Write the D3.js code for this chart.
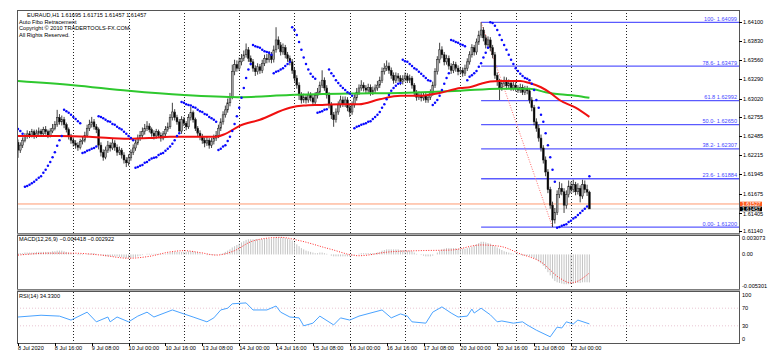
<!DOCTYPE html>
<html>
<head>
<meta charset="utf-8">
<style>
  body { margin: 0; background: #fff; }
  svg { display: block; font-family: "Liberation Sans", Arial, sans-serif; }
</style>
</head>
<body>
<svg width="774" height="362"></svg>
<script src="https://d3js.org/d3.v7.min.js"></script>
<script>
// EURAUD H1, 8 Jul 2020 00:00 .. 22 Jul 2020 08:00 (bar 0 .. 248)
var firstOpen = 1.6240;
var close = [
  1.6229,1.6236,1.6243,1.6248,1.6252,1.6250,1.6255,1.6249,1.6253,1.6256,
  1.6252,1.6258,1.6255,1.6250,1.6256,1.6260,1.6265,1.6275,1.6269,1.6272,
  1.6265,1.6258,1.6248,1.6243,1.6239,1.6236,1.6233,1.6241,1.6243,1.6250,
  1.6260,1.6265,1.6269,1.6262,1.6258,1.6236,1.6226,1.6219,1.6229,1.6236,
  1.6232,1.6239,1.6233,1.6226,1.6229,1.6222,1.6215,1.6211,1.6218,1.6226,
  1.6232,1.6239,1.6246,1.6250,1.6255,1.6260,1.6263,1.6258,1.6253,1.6249,
  1.6255,1.6250,1.6246,1.6252,1.6258,1.6262,1.6275,1.6283,1.6275,1.6269,
  1.6256,1.6272,1.6267,1.6262,1.6275,1.6282,1.6272,1.6260,1.6253,1.6248,
  1.6243,1.6239,1.6243,1.6236,1.6241,1.6246,1.6250,1.6260,1.6269,1.6279,
  1.6286,1.6296,1.6304,1.6340,1.6350,1.6345,1.6354,1.6359,1.6364,1.6371,
  1.6359,1.6354,1.6345,1.6340,1.6347,1.6342,1.6352,1.6359,1.6357,1.6364,
  1.6357,1.6371,1.6385,1.6378,1.6368,1.6374,1.6364,1.6359,1.6354,1.6342,
  1.6331,1.6321,1.6307,1.6300,1.6304,1.6300,1.6307,1.6303,1.6297,1.6306,
  1.6311,1.6321,1.6328,1.6317,1.6307,1.6293,1.6279,1.6272,1.6283,1.6293,
  1.6300,1.6294,1.6300,1.6289,1.6283,1.6293,1.6303,1.6311,1.6317,1.6321,
  1.6317,1.6314,1.6318,1.6311,1.6314,1.6317,1.6321,1.6328,1.6340,1.6345,
  1.6348,1.6342,1.6335,1.6328,1.6334,1.6331,1.6326,1.6330,1.6334,1.6328,
  1.6331,1.6321,1.6310,1.6304,1.6307,1.6303,1.6306,1.6300,1.6304,1.6310,
  1.6321,1.6340,1.6357,1.6371,1.6364,1.6354,1.6359,1.6348,1.6342,1.6350,
  1.6345,1.6340,1.6342,1.6338,1.6345,1.6354,1.6364,1.6374,1.6368,1.6382,
  1.6392,1.6399,1.6388,1.6378,1.6385,1.6374,1.6364,1.6335,1.6326,1.6317,
  1.6323,1.6328,1.6320,1.6324,1.6317,1.6321,1.6317,1.6314,1.6318,1.6311,
  1.6316,1.6313,1.6300,1.6289,1.6269,1.6260,1.6246,1.6232,1.6215,1.6198,
  1.6173,1.6151,1.6130,1.6141,1.6166,1.6175,1.6170,1.6151,1.6166,1.6178,
  1.6173,1.6180,1.6170,1.6175,1.6164,1.6180,1.6173,1.61695,1.61457
];
var high = [
  1.6244,1.6240,1.6247,1.6253,1.6257,1.6256,1.6259,1.6258,1.6258,1.6261,
  1.6259,1.6262,1.6263,1.6258,1.6260,1.6266,1.6270,1.6286,1.6280,1.6278,
  1.6276,1.6268,1.6261,1.6252,1.6247,1.6243,1.6240,1.6245,1.6249,1.6255,
  1.6265,1.6272,1.6276,1.6273,1.6266,1.6261,1.6240,1.6230,1.6234,1.6242,
  1.6240,1.6245,1.6243,1.6237,1.6234,1.6232,1.6226,1.6219,1.6223,1.6230,
  1.6237,1.6244,1.6251,1.6256,1.6261,1.6266,1.6270,1.6267,1.6261,1.6257,
  1.6259,1.6258,1.6254,1.6256,1.6263,1.6268,1.6280,1.6296,1.6287,1.6279,
  1.6273,1.6277,1.6276,1.6270,1.6280,1.6290,1.6285,1.6275,1.6263,1.6257,
  1.6252,1.6247,1.6248,1.6246,1.6246,1.6251,1.6256,1.6265,1.6274,1.6284,
  1.6292,1.6302,1.6310,1.6350,1.6357,1.6356,1.6360,1.6365,1.6370,1.6380,
  1.6375,1.6363,1.6358,1.6349,1.6352,1.6351,1.6357,1.6364,1.6365,1.6369,
  1.6368,1.6377,1.6403,1.6390,1.6382,1.6380,1.6378,1.6368,1.6363,1.6358,
  1.6346,1.6335,1.6325,1.6311,1.6309,1.6308,1.6312,1.6311,1.6307,1.6311,
  1.6317,1.6326,1.6342,1.6332,1.6321,1.6311,1.6297,1.6283,1.6288,1.6298,
  1.6306,1.6305,1.6305,1.6304,1.6293,1.6298,1.6308,1.6317,1.6322,1.6328,
  1.6325,1.6321,1.6323,1.6322,1.6319,1.6322,1.6327,1.6333,1.6346,1.6352,
  1.6356,1.6353,1.6346,1.6339,1.6339,1.6338,1.6335,1.6335,1.6339,1.6338,
  1.6336,1.6334,1.6324,1.6314,1.6312,1.6311,1.6311,1.6310,1.6309,1.6315,
  1.6326,1.6345,1.6362,1.6381,1.6376,1.6368,1.6364,1.6363,1.6352,1.6355,
  1.6354,1.6349,1.6347,1.6346,1.6350,1.6359,1.6369,1.6379,1.6378,1.6387,
  1.6398,1.64099,1.6403,1.6392,1.6390,1.6389,1.6378,1.6368,1.6339,1.6330,
  1.6328,1.6333,1.6332,1.6329,1.6328,1.6326,1.6325,1.6321,1.6323,1.6322,
  1.6320,1.6320,1.6317,1.6304,1.6293,1.6274,1.6265,1.6251,1.6236,1.6220,
  1.6202,1.6177,1.6156,1.6147,1.6172,1.6184,1.6182,1.6175,1.6172,1.6186,
  1.6184,1.6187,1.6184,1.6182,1.6179,1.6187,1.6186,1.6180,1.61715
];
var low = [
  1.6218,1.6225,1.6232,1.6240,1.6245,1.6246,1.6247,1.6245,1.6246,1.6250,
  1.6248,1.6249,1.6251,1.6246,1.6247,1.6253,1.6257,1.6262,1.6265,1.6264,
  1.6260,1.6254,1.6244,1.6238,1.6234,1.6231,1.6228,1.6230,1.6237,1.6240,
  1.6247,1.6256,1.6261,1.6258,1.6253,1.6230,1.6220,1.6214,1.6216,1.6225,
  1.6227,1.6229,1.6228,1.6221,1.6222,1.6217,1.6210,1.6205,1.6207,1.6214,
  1.6222,1.6228,1.6236,1.6242,1.6246,1.6251,1.6256,1.6254,1.6248,1.6244,
  1.6245,1.6246,1.6241,1.6243,1.6249,1.6255,1.6259,1.6271,1.6271,1.6265,
  1.6254,1.6252,1.6263,1.6257,1.6259,1.6271,1.6268,1.6256,1.6248,1.6243,
  1.6238,1.6233,1.6235,1.6231,1.6232,1.6237,1.6242,1.6246,1.6256,1.6265,
  1.6275,1.6282,1.6291,1.6301,1.6335,1.6340,1.6341,1.6349,1.6355,1.6360,
  1.6354,1.6349,1.6340,1.6334,1.6336,1.6337,1.6338,1.6348,1.6352,1.6353,
  1.6352,1.6353,1.6367,1.6372,1.6363,1.6364,1.6359,1.6354,1.6349,1.6337,
  1.6326,1.6316,1.6300,1.6295,1.6296,1.6295,1.6296,1.6298,1.6292,1.6293,
  1.6302,1.6307,1.6317,1.6313,1.6302,1.6288,1.6273,1.6262,1.6268,1.6279,
  1.6289,1.6290,1.6290,1.6284,1.6276,1.6279,1.6289,1.6299,1.6307,1.6313,
  1.6312,1.6309,1.6310,1.6306,1.6307,1.6310,1.6313,1.6317,1.6324,1.6336,
  1.6341,1.6337,1.6330,1.6323,1.6324,1.6326,1.6321,1.6322,1.6326,1.6324,
  1.6324,1.6316,1.6305,1.6299,1.6300,1.6298,1.6299,1.6296,1.6296,1.6300,
  1.6306,1.6317,1.6336,1.6352,1.6359,1.6349,1.6350,1.6343,1.6337,1.6338,
  1.6340,1.6335,1.6336,1.6333,1.6334,1.6341,1.6350,1.6360,1.6363,1.6364,
  1.6378,1.6388,1.6383,1.6373,1.6374,1.6369,1.6359,1.6330,1.6320,1.6300,
  1.6313,1.6319,1.6315,1.6316,1.6313,1.6313,1.6312,1.6310,1.6310,1.6307,
  1.6307,1.6308,1.6295,1.6284,1.6264,1.6255,1.6241,1.6227,1.6210,1.6192,
  1.6168,1.6146,1.6120,1.6125,1.6137,1.6161,1.6165,1.6140,1.6146,1.6162,
  1.6168,1.6169,1.6165,1.6166,1.6155,1.6160,1.6168,1.6164,1.61457
];
// Parabolic SAR, one dot per bar
var sar = [
  1.6259,1.6256,1.6252,1.6177,1.6178,1.6180,1.6182,1.6184,1.6187,1.6190,
  1.6192,1.6197,1.6201,1.6207,1.6212,1.6219,1.6226,1.6235,1.6243,1.6249,
  1.6286,1.6284,1.6282,1.6279,1.6276,1.6273,1.6270,1.6267,1.6225,1.6226,
  1.6228,1.6229,1.6231,1.6232,1.6234,1.6277,1.6276,1.6274,1.6272,1.6270,
  1.6269,1.6266,1.6265,1.6262,1.6260,1.6258,1.6255,1.6252,1.6249,1.6246,
  1.6243,1.6204,1.6205,1.6207,1.6208,1.6211,1.6212,1.6215,1.6217,1.6218,
  1.6219,1.6222,1.6224,1.6225,1.6228,1.6231,1.6234,1.6238,1.6243,1.6249,
  1.6253,1.6297,1.6296,1.6294,1.6293,1.6292,1.6290,1.6289,1.6286,1.6284,
  1.6283,1.6280,1.6279,1.6276,1.6274,1.6272,1.6269,1.6229,1.6231,1.6234,
  1.6236,1.6242,1.6248,1.6256,1.6266,1.6277,1.6289,1.6303,1.6317,1.6331,
  1.6343,1.6351,1.6378,1.6376,1.6375,1.6374,1.6371,1.6369,1.6368,1.6367,
  1.6364,1.6338,1.6340,1.6341,1.6343,1.6345,1.6348,1.6351,1.6354,1.6403,
  1.6399,1.6392,1.6382,1.6371,1.6360,1.6351,1.6343,1.6337,1.6333,1.6330,
  1.6282,1.6283,1.6284,1.6286,1.6287,1.6343,1.6338,1.6334,1.6328,1.6324,
  1.6320,1.6317,1.6314,1.6311,1.6309,1.6306,1.6260,1.6262,1.6263,1.6265,
  1.6266,1.6267,1.6269,1.6270,1.6273,1.6276,1.6279,1.6283,1.6289,1.6294,
  1.6301,1.6307,1.6313,1.6317,1.6320,1.6323,1.6324,1.6357,1.6355,1.6354,
  1.6351,1.6348,1.6345,1.6343,1.6340,1.6337,1.6334,1.6331,1.6328,1.6327,
  1.6293,1.6296,1.6300,1.6306,1.6314,1.6323,1.6331,1.6338,1.6385,1.6384,
  1.6382,1.6381,1.6379,1.6378,1.6376,1.6328,1.6333,1.6335,1.6338,1.6341,
  1.6347,1.6352,1.6360,1.6367,1.6374,1.6410,1.6409,1.6405,1.6399,1.6392,
  1.6385,1.6378,1.6371,1.6364,1.6357,1.6351,1.6345,1.6341,1.6337,1.6334,
  1.6331,1.6330,1.6328,1.6323,1.6314,1.6300,1.6289,1.6279,1.6269,1.6253,
  1.6236,1.6219,1.6201,1.6184,1.6119,1.6120,1.6122,1.6123,1.6124,1.6127,
  1.6129,1.6132,1.6134,1.6137,1.6140,1.6143,1.6146,1.6149,1.6192
];
// moving averages, read at sample bars
var maRedBars = [0,18,31,48,57,66,79,86,90,96,105,118,124,131,140,148,157,166,174,183,192,196,201,205,209,218,222,227,231,235,242,248];
var maRedVals = [1.6249,1.6249,1.6248,1.6245,1.6246,1.6248,1.6248,1.6248,1.6252,1.6263,1.6272,1.6289,1.6292,1.6293,1.6294,1.6294,1.6301,1.6306,1.6306,1.6310,1.6317,1.6318,1.6323,1.6326,1.6327,1.6327,1.6324,1.6318,1.6310,1.6300,1.6289,1.6276];
var maGreenBars = [0,24,48,72,96,118,144,166,192,209,222,229,235,242,248];
var maGreenVals = [1.6327,1.6321,1.6313,1.6307,1.6304,1.6307,1.6309,1.6310,1.6313,1.6316,1.6316,1.6311,1.6308,1.6306,1.6303];

// MACD(12,26,9) main histogram, one value per bar
var macdMain = [
  0.0002,0.0002,0.0002,0.0003,0.0003,0.0003,0.0003,0.0003,0.0004,0.0004,0.0004,
  0.0004,0.0004,0.0004,0.0004,0.0005,0.0005,0.0006,0.0006,0.0006,0.0005,
  0.0004,0.0003,0.0002,0.0001,0,-0.0001,-0.0001,-0.0001,0,0.0001,
  0.0001,0.0002,0.0002,0.0001,0,-0.0001,-0.0002,-0.0003,-0.0003,-0.0003,
  -0.0003,-0.0003,-0.0003,-0.0004,-0.0004,-0.0005,-0.0006,-0.0006,-0.0006,-0.0005,
  -0.0004,-0.0003,-0.0002,-0.0001,0,0.0001,0.0001,0.0001,0.0001,0.0001,
  0.0001,0.0001,0.0001,0.0001,0.0002,0.0003,0.0004,0.0004,0.0004,0.0004,
  0.0004,0.0004,0.0004,0.0005,0.0005,0.0005,0.0004,0.0003,0.0002,0.0001,
  0,-0.0001,-0.0001,-0.0001,-0.0001,-0.0001,0,0.0001,0.0002,0.0004,
  0.0006,0.0008,0.0011,0.0013,0.0015,0.0017,0.0019,0.0021,0.0023,0.0024,
  0.0024,0.0024,0.0024,0.0024,0.0024,0.0024,0.0025,0.0025,0.0025,0.0025,
  0.0026,0.0027,0.0027,0.0027,0.0027,0.0026,0.0025,0.0024,0.0022,0.0019,
  0.0016,0.0013,0.0010,0.0008,0.0006,0.0005,0.0004,0.0003,0.0002,0.0002,
  0.0003,0.0003,0.0002,0.0001,0,-0.0002,-0.0003,-0.0003,-0.0003,-0.0003,
  -0.0003,-0.0003,-0.0003,-0.0003,-0.0002,-0.0001,0,0.0001,0.0002,0.0002,
  0.0002,0.0002,0.0002,0.0002,0.0002,0.0003,0.0004,0.0006,0.0007,0.0008,
  0.0008,0.0008,0.0008,0.0008,0.0008,0.0007,0.0007,0.0007,0.0006,0.0006,
  0.0005,0.0003,0.0001,0,-0.0001,-0.0002,-0.0003,-0.0003,-0.0003,-0.0002,
  0,0.0003,0.0006,0.0008,0.0009,0.0010,0.0010,0.0010,0.0010,0.0010,
  0.0009,0.0009,0.0009,0.0009,0.0010,0.0011,0.0012,0.0014,0.0016,0.0018,
  0.0020,0.0020,0.0019,0.0018,0.0017,0.0015,0.0013,0.0011,0.0009,0.0007,
  0.0005,0.0004,0.0003,0.0002,0.0001,0,-0.0001,-0.0001,-0.0002,-0.0002,
  -0.0002,-0.0003,-0.0004,-0.0006,-0.0008,-0.0011,-0.0014,-0.0018,-0.0023,-0.0028,
  -0.0033,-0.0038,-0.0042,-0.0044,-0.0045,-0.0046,-0.0047,-0.0047,-0.0047,-0.0046,
  -0.0046,-0.0045,-0.0045,-0.0045,-0.0044,-0.0044,-0.0044,-0.004418
];
var macdSigBars = [0,14,24,36,48,57,66,72,79,86,94,101,105,114,122,135,148,161,174,188,201,209,218,227,235,240,248];
var macdSigVals = [-0.0001,0.0002,0.0002,-0.0001,-0.0006,-0.0003,0.0004,0.0006,0.0003,-0.0001,0.0006,0.0020,0.0024,0.0027,0.0022,0.0009,-0.0002,0.0004,0.0006,0.0007,0.0015,0.0013,0.0001,-0.0012,-0.0037,-0.0045,-0.002922];

// RSI(14), read at sample bars
var rsiBars = [0,10,18,23,30,34,39,40,43,48,52,56,59,67,72,76,82,85,88,91,93,99,102,108,112,114,118,122,124,128,131,137,140,144,148,158,162,166,169,171,177,180,184,188,191,195,197,198,201,205,208,210,215,219,221,225,231,234,236,238,241,243,248];
var rsiVals = [50,54,52,43,61,39,50,39,50,39,52,61,50,66,57,50,39,48,66,70,80,82,66,66,75,61,50,48,30,36,52,32,48,43,52,66,48,57,52,39,36,61,73,59,50,52,68,59,70,55,39,41,36,39,32,20,5,27,25,39,34,43,34.33];

var fiboNames = ["100", "78.6", "61.8", "50.0", "38.2", "23.6", "0.00"];
var fiboPrices = [1.64099, 1.63479, 1.62992, 1.62650, 1.62307, 1.61884, 1.61200];
var fiboHighBar = 201, fiboLowBar = 232;

var priceTicks = [1.64100, 1.63830, 1.63560, 1.63290, 1.63020, 1.62755, 1.62485, 1.62215, 1.61945, 1.61675, 1.61405, 1.61140];
var timeLabels = ["8 Jul 2020", "8 Jul 16:00", "9 Jul 08:00", "10 Jul 00:00", "10 Jul 16:00", "13 Jul 08:00", "14 Jul 00:00", "14 Jul 16:00",
                  "15 Jul 08:00", "16 Jul 00:00", "16 Jul 16:00", "17 Jul 08:00", "20 Jul 00:00", "20 Jul 16:00", "21 Jul 08:00", "22 Jul 00:00"];
var infoLines = ["Auto Fibo Retracement", "Copyright \u00a9 2010 TRADERTOOLS-FX.COM.", "All Rights Reserved."];
var askPrice = 1.61527, bidPrice = 1.61457;

var svg = d3.select("svg"),
    left = 17, right = 739,
    mainTop = 10, mainBot = 233,
    macdTop = 235, macdBot = 289,
    rsiTop = 291, rsiBot = 343,
    fs = 5.6;

var x = d3.scaleLinear().domain([0, 248]).range([18, 18 + 248 * 2.304]);
var y = d3.scaleLinear().domain([1.6114, 1.6410]).range([231.3, 22.3]);
var yM = d3.scaleLinear().domain([-0.005301, 0.003073]).range([288, 235]);
var yR = d3.scaleLinear().domain([0, 100]).range([339, 295]);

svg.append("rect").attr("width", 774).attr("height", 362).attr("fill", "#fff");

var defs = svg.append("defs");
[["cMain", mainTop, mainBot], ["cMacd", macdTop, macdBot], ["cRsi", rsiTop, rsiBot]].forEach(function(c) {
  defs.append("clipPath").attr("id", c[0]).append("rect")
    .attr("x", left).attr("y", c[1]).attr("width", right - left).attr("height", c[2] - c[1]);
});

// vertical dotted grid
svg.append("g").selectAll("line").data(d3.range(24, 265, 24)).join("line")
    .attr("x1", function(d) { return Math.round(x(d)) + 0.5; })
    .attr("x2", function(d) { return Math.round(x(d)) + 0.5; })
    .attr("y1", mainTop).attr("y2", rsiBot)
    .attr("stroke", "#222").attr("stroke-width", 1).attr("stroke-dasharray", "1,2");

var gMain = svg.append("g").attr("clip-path", "url(#cMain)");

// fibo levels
gMain.selectAll(".fib").data(fiboPrices).join("line")
    .attr("x1", x(fiboHighBar)).attr("x2", right)
    .attr("y1", function(d) { return y(d); }).attr("y2", function(d) { return y(d); })
    .attr("stroke", "#5a5aff").attr("stroke-width", 1.3);
gMain.append("line")
    .attr("x1", x(fiboHighBar)).attr("y1", y(fiboPrices[0]))
    .attr("x2", x(fiboLowBar)).attr("y2", y(fiboPrices[6]))
    .attr("stroke", "#ff6a6a").attr("stroke-width", 1).attr("stroke-dasharray", "1,1.5");

// ask / bid lines
gMain.append("line").attr("x1", left).attr("x2", right)
    .attr("y1", y(askPrice)).attr("y2", y(askPrice))
    .attr("stroke", "#ff9a70").attr("stroke-width", 1);
gMain.append("line").attr("x1", left).attr("x2", right)
    .attr("y1", y(bidPrice)).attr("y2", y(bidPrice))
    .attr("stroke", "#d8d8d8").attr("stroke-width", 1);

// candles
var bars = close.map(function(c, i) {
  return {i: i, o: i ? close[i - 1] : firstOpen, h: high[i], l: low[i], c: c};
});
gMain.selectAll(".wick").data(bars).join("line")
    .attr("x1", function(d) { return x(d.i); }).attr("x2", function(d) { return x(d.i); })
    .attr("y1", function(d) { return y(d.h); }).attr("y2", function(d) { return y(d.l); })
    .attr("stroke", "#111").attr("stroke-width", 0.8);
gMain.selectAll(".body").data(bars).join("rect")
    .attr("x", function(d) { return x(d.i) - 0.9; })
    .attr("width", 1.8)
    .attr("y", function(d) { return y(Math.max(d.o, d.c)); })
    .attr("height", function(d) { return Math.max(0.6, Math.abs(y(d.o) - y(d.c))); })
    .attr("fill", function(d) { return d.c >= d.o ? "#a8a8a8" : "#000"; })
    .attr("stroke", "#222").attr("stroke-width", 0.5);

// moving averages
var maLine = d3.line().x(function(d) { return x(d[0]); }).y(function(d) { return y(d[1]); }).curve(d3.curveMonotoneX);
gMain.append("path").attr("d", maLine(d3.zip(maGreenBars, maGreenVals)))
    .attr("fill", "none").attr("stroke", "#2ec82e").attr("stroke-width", 2);
gMain.append("path").attr("d", maLine(d3.zip(maRedBars, maRedVals)))
    .attr("fill", "none").attr("stroke", "#f01010").attr("stroke-width", 2);

// parabolic SAR
gMain.selectAll(".sar").data(sar).join("circle")
    .attr("cx", function(d, i) { return x(i); }).attr("cy", function(d) { return y(d); })
    .attr("r", 1.25).attr("fill", "#0a0aff");

// fibo labels
gMain.selectAll(".fibt").data(fiboPrices).join("text")
    .attr("x", right - 2).attr("y", function(d) { return y(d) - 1.5; })
    .attr("text-anchor", "end").attr("font-size", fs).attr("fill", "#4646ff")
    .text(function(d, i) { return fiboNames[i] + (i == 2 ? " " : "- ") + d3.format(".5f")(d); });

// info text
svg.append("text").attr("x", 27).attr("y", 17).attr("font-size", fs).attr("fill", "#000")
    .text("EURAUD,H1  " + [bars[248].o, bars[248].h, bars[248].l, bars[248].c].map(d3.format(".5f")).join(" "));
svg.selectAll(".info").data(infoLines).join("text")
    .attr("x", 19).attr("y", function(d, i) { return 23.5 + i * 6.5; })
    .attr("font-size", fs).attr("fill", "#000").text(function(d) { return d; });

// MACD panel
var gMacd = svg.append("g").attr("clip-path", "url(#cMacd)");
gMacd.selectAll(".h").data(macdMain).join("line")
    .attr("x1", function(d, i) { return x(i); }).attr("x2", function(d, i) { return x(i); })
    .attr("y1", yM(0)).attr("y2", function(d) { return yM(d); })
    .attr("stroke", "#bcbcbc").attr("stroke-width", 0.9);
gMacd.append("path")
    .attr("d", d3.line().x(function(d) { return x(d[0]); }).y(function(d) { return yM(d[1]); })
      .curve(d3.curveMonotoneX)(d3.zip(macdSigBars, macdSigVals)))
    .attr("fill", "none").attr("stroke", "#ff2a2a").attr("stroke-width", 1).attr("stroke-dasharray", "1,1.5");
svg.append("text").attr("x", 19).attr("y", 241).attr("font-size", fs)
    .text("MACD(12,26,9) " + d3.format(".6f")(macdMain[248]) + " " + d3.format(".6f")(macdSigVals[macdSigVals.length - 1]));

// RSI panel
var gRsi = svg.append("g").attr("clip-path", "url(#cRsi)");
gRsi.selectAll(".lvl").data([70, 30]).join("line")
    .attr("x1", left).attr("x2", right)
    .attr("y1", function(d) { return yR(d); }).attr("y2", function(d) { return yR(d); })
    .attr("stroke", "#e2b8c8").attr("stroke-width", 0.8).attr("stroke-dasharray", "1,2");
gRsi.append("path")
    .attr("d", d3.line().x(function(d) { return x(d[0]); }).y(function(d) { return yR(d[1]); })(d3.zip(rsiBars, rsiVals)))
    .attr("fill", "none").attr("stroke", "#4aa3ff").attr("stroke-width", 1);
svg.append("text").attr("x", 19).attr("y", 298).attr("font-size", fs)
    .text("RSI(14) " + d3.format(".4f")(rsiVals[rsiVals.length - 1]));

// frames
var fr = svg.append("g").attr("stroke", "#555").attr("fill", "none");
[[mainTop, mainBot], [macdTop, macdBot], [rsiTop, rsiBot]].forEach(function(p) {
  fr.append("rect").attr("x", left + 0.5).attr("y", p[0] + 0.5)
    .attr("width", right - left).attr("height", p[1] - p[0]);
});
svg.append("rect").attr("x", left).attr("y", mainBot + 0.5).attr("width", right - left + 1).attr("height", 1.5).attr("fill", "#aaa");
svg.append("rect").attr("x", left).attr("y", macdBot + 0.5).attr("width", right - left + 1).attr("height", 1.5).attr("fill", "#aaa");

// price axis
var ax = svg.append("g").attr("font-size", fs);
ax.selectAll("line").data(priceTicks).join("line")
    .attr("x1", right).attr("x2", right + 3)
    .attr("y1", function(d) { return Math.round(y(d)) + 0.5; }).attr("y2", function(d) { return Math.round(y(d)) + 0.5; })
    .attr("stroke", "#000");
ax.selectAll("text").data(priceTicks).join("text")
    .attr("x", right + 4).attr("y", function(d) { return y(d) + (d < 1.6142 && d > 1.6140 ? 3.2 : 2); })
    .text(function(d) { return d3.format(".5f")(d); });

// current price boxes
[[askPrice, "#ff5a1e"], [bidPrice, "#000"]].forEach(function(p) {
  svg.append("rect").attr("x", right + 1).attr("y", y(p[0]) - 2.3).attr("width", 22).attr("height", 4.6).attr("fill", p[1]);
  svg.append("text").attr("x", right + 3).attr("y", y(p[0]) + 1.9).attr("font-size", 5.2).attr("fill", "#fff")
      .text(d3.format(".5f")(p[0]));
});

// MACD / RSI axis labels
var sub = [[239.5, "0.003073"], [yM(0) + 2, "0.00"], [yM(-0.005301) + 0, "-0.005301"],
           [yR(100) + 2, "100"], [yR(70) + 2, "70"], [yR(30) + 2, "30"], [yR(0) + 2, "0"]];
svg.append("g").attr("font-size", fs).selectAll("text").data(sub).join("text")
    .attr("x", right + 3).attr("y", function(d) { return d[0]; }).text(function(d) { return d[1]; });

// time axis
var tg = svg.append("g").attr("font-size", fs);
tg.selectAll("line").data(timeLabels).join("line")
    .attr("x1", function(d, i) { return Math.round(x(i * 16)) + 0.5; })
    .attr("x2", function(d, i) { return Math.round(x(i * 16)) + 0.5; })
    .attr("y1", rsiBot).attr("y2", rsiBot + 3).attr("stroke", "#000");
tg.selectAll("text").data(timeLabels).join("text")
    .attr("x", function(d, i) { return x(i * 16); }).attr("y", 349.5)
    .text(function(d) { return d; });
</script>
</body>
</html>
